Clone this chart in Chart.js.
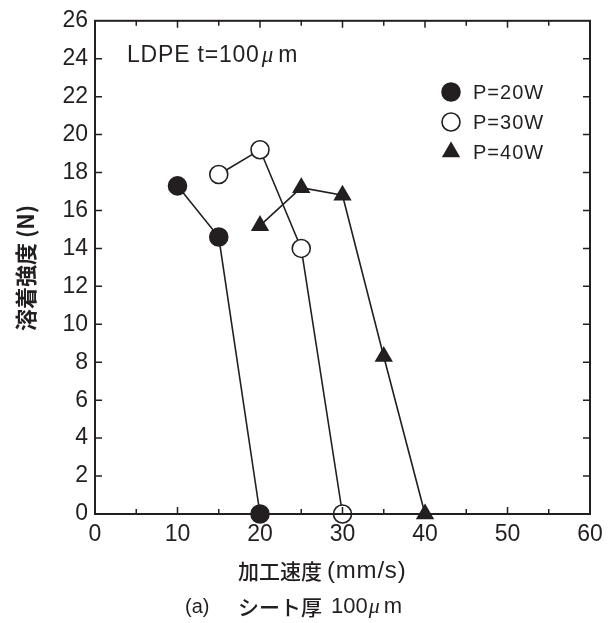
<!DOCTYPE html>
<html>
<head>
<meta charset="utf-8">
<script src="https://cdn.jsdelivr.net/npm/chart.js@4.4.1/dist/chart.umd.min.js"></script>
<style>
  html, body { margin: 0; padding: 0; background: #fff; }
  #wrap { width: 612px; height: 623px; }
</style>
</head>
<body>
<div id="wrap"><canvas id="weldChart" width="612" height="623"></canvas></div>
<script>
// speed (mm/s) vs weld strength (N), LDPE t=100um
var speed20 = [10, 15, 20];
var force20 = [17.3, 14.6, 0];
var speed30 = [15, 20, 25, 30];
var force30 = [17.9, 19.2, 14.0, 0];
var speed40 = [20, 25, 30, 35, 40];
var force40 = [15.2, 17.2, 16.8, 8.3, 0];
var seriesNames = ['P=20W', 'P=30W', 'P=40W'];
var xTicks = [0, 10, 20, 30, 40, 50, 60];
var yTicks = [0, 2, 4, 6, 8, 10, 12, 14, 16, 18, 20, 22, 24, 26];

var INK = '#231f20';
var NUM_FONT = "'Liberation Sans Narrow', 'Liberation Sans', sans-serif";
var JP_FONT = "'Noto Sans CJK JP', sans-serif";

function toPoints(xs, ys) {
  return xs.map(function (x, i) { return { x: x, y: ys[i] }; });
}

function makeSet(label, xs, ys, style, fill) {
  return {
    label: label,
    data: toPoints(xs, ys),
    showLine: true,
    borderColor: INK,
    borderWidth: 1.6,
    pointStyle: style,
    pointRadius: 9,
    pointBorderWidth: 1.6,
    pointBorderColor: INK,
    pointBackgroundColor: fill,
    clip: false
  };
}

// draws text pieces one after another: [text, font, gapAfter, letterSpacing]
function drawRun(ctx, parts, x, y) {
  parts.forEach(function (p) {
    ctx.font = p[1];
    ctx.letterSpacing = (p[3] || 0) + 'px';
    ctx.fillText(p[0], x, y);
    x += ctx.measureText(p[0]).width + (p[2] || 0);
  });
  ctx.letterSpacing = '0px';
  return x;
}

// inward ticks + frame, legend and text labels
var decorations = {
  id: 'decorations',
  afterDraw: function (chart) {
    var ctx = chart.ctx;
    var a = chart.chartArea;
    var xs = chart.scales.x, ys = chart.scales.y;
    ctx.save();
    ctx.strokeStyle = INK;
    ctx.lineWidth = 1.5;
    ctx.beginPath();
    for (var v = 5; v < 60; v += 5) {
      var px = xs.getPixelForValue(v);
      var len = (v % 10 === 0) ? 7 : 5;
      ctx.moveTo(px, a.bottom); ctx.lineTo(px, a.bottom - len);
      ctx.moveTo(px, a.top); ctx.lineTo(px, a.top + len);
    }
    yTicks.forEach(function (t) {
      if (t === 0 || t === 26) return;
      var py = ys.getPixelForValue(t);
      ctx.moveTo(a.left, py); ctx.lineTo(a.left + 7, py);
      ctx.moveTo(a.right, py); ctx.lineTo(a.right - 7, py);
    });
    ctx.stroke();
    ctx.lineWidth = 2;
    ctx.strokeRect(a.left, a.top, a.right - a.left, a.bottom - a.top);

    // legend
    var ly = [92, 122, 152];
    chart.data.datasets.forEach(function (ds, i) {
      ctx.fillStyle = ds.pointBackgroundColor;
      ctx.strokeStyle = INK;
      ctx.lineWidth = 1.6;
      Chart.helpers.drawPoint(ctx, { pointStyle: ds.pointStyle, radius: 9, rotation: 0, borderWidth: 1.6 }, 451, ly[i]);
      ctx.fillStyle = INK;
      ctx.font = "20px 'Liberation Sans', sans-serif";
      ctx.textAlign = 'left';
      ctx.textBaseline = 'middle';
      ctx.letterSpacing = '1px';
      ctx.fillText(ds.label, 473, ly[i] + 1);
      ctx.letterSpacing = '0px';
    });

    // sample label
    ctx.fillStyle = INK;
    ctx.textBaseline = 'middle';
    ctx.textAlign = 'left';
    drawRun(ctx, [
      ['LDPE t=100', "23px 'Liberation Sans', sans-serif", 2, 0.8],
      ['\u03bc', "italic 23px 'Liberation Serif', serif", 5],
      ['m', "23px 'Liberation Sans', sans-serif"]
    ], 127, 56);

    // x axis title
    drawRun(ctx, [
      ['加工速度', "500 21px " + JP_FONT, 5],
      ['(mm/s)', "24px 'Liberation Sans', sans-serif", 0, 0.8]
    ], 238, 571);

    // y axis title
    ctx.save();
    ctx.translate(26, 268);
    ctx.rotate(-Math.PI / 2);
    ctx.textAlign = 'center';
    ctx.font = "bold 22px " + JP_FONT;
    ctx.fillText('溶着強度 (N)', 0, 0);
    ctx.restore();

    // caption
    ctx.textAlign = 'left';
    drawRun(ctx, [['(a)', "20px " + NUM_FONT]], 185, 607);
    drawRun(ctx, [
      ['シート厚', "500 21px " + JP_FONT, 9],
      ['100', "22px " + NUM_FONT, 1],
      ['\u03bc', "italic 22px 'Liberation Serif', serif", 4],
      ['m', "22px " + NUM_FONT]
    ], 238, 607);
    ctx.restore();
  }
};

var ctx = document.getElementById('weldChart').getContext('2d');
var weldChart = new Chart(ctx, {
  type: 'scatter',
  data: {
    datasets: [
      makeSet(seriesNames[0], speed20, force20, 'circle', INK),
      makeSet(seriesNames[1], speed30, force30, 'circle', '#ffffff'),
      makeSet(seriesNames[2], speed40, force40, 'triangle', INK)
    ]
  },
  options: {
    responsive: false,
    animation: false,
    layout: { padding: { left: 0, right: 22, top: 18, bottom: 0 } },
    plugins: { legend: { display: false }, tooltip: { enabled: false } },
    scales: {
      x: {
        type: 'linear',
        min: 0, max: 60,
        afterFit: function (s) { s.height = 109; },
        afterBuildTicks: function (s) { s.ticks = xTicks.map(function (v) { return { value: v }; }); },
        grid: { display: false, drawTicks: false },
        border: { display: false },
        ticks: { color: INK, padding: 7, font: { family: NUM_FONT, size: 23 }, maxRotation: 0 }
      },
      y: {
        type: 'linear',
        min: 0, max: 26,
        afterFit: function (s) { s.width = 95; },
        afterBuildTicks: function (s) { s.ticks = yTicks.map(function (v) { return { value: v }; }); },
        grid: { display: false, drawTicks: false },
        border: { display: false },
        ticks: { color: INK, padding: 7, font: { family: NUM_FONT, size: 23 } }
      }
    }
  },
  plugins: [decorations]
});
</script>
</body>
</html>
